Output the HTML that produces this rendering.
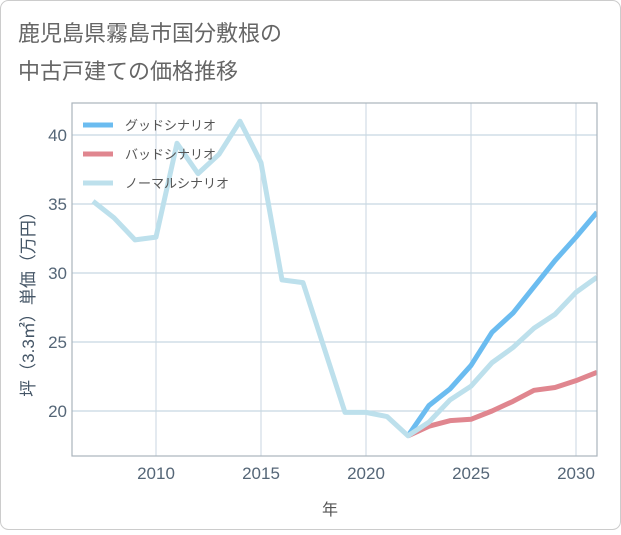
<!DOCTYPE html>
<html><head><meta charset="utf-8"><style>
body{margin:0;background:#fff;font-family:"Liberation Sans","Noto Sans CJK JP",sans-serif;}
#wrap{position:relative;width:621px;height:530px;}
</style></head><body>
<div id="wrap">
<svg id="chart" width="621" height="530" font-family="Liberation Sans, Noto Sans CJK JP, sans-serif">
<rect x="0.5" y="0.5" width="620" height="529" rx="8" fill="#fff" stroke="#ccc"/>
<text x="18" y="41" font-size="22" fill="#666">鹿児島県霧島市国分敷根の</text>
<text x="18" y="79" font-size="22" fill="#666">中古戸建ての価格推移</text>
<g id="grid"></g>
<g id="series"></g>
<g id="axes"></g>
<text x="330" y="515" font-size="16" fill="#555" text-anchor="middle">年</text>
<text transform="translate(34,300) rotate(-90)" font-size="17" fill="#456" text-anchor="middle">坪（3.3㎡）単価（万円）</text>
<g>
<line x1="83" y1="125" x2="113" y2="125" stroke="#6bbcf0" stroke-width="5"/>
<text x="125" y="130" font-size="13" fill="#555">グッドシナリオ</text>
<line x1="83" y1="154" x2="113" y2="154" stroke="#e0868f" stroke-width="5"/>
<text x="125" y="159" font-size="13" fill="#555">バッドシナリオ</text>
<line x1="83" y1="183" x2="113" y2="183" stroke="#bde0ec" stroke-width="5"/>
<text x="125" y="188" font-size="13" fill="#555">ノーマルシナリオ</text>
</g>
</svg>
</div>
<script>
const normalYears=[2007,2008,2009,2010,2011,2012,2013,2014,2015,2016,2017,2018,2019,2020,2021,2022,2023,2024,2025,2026,2027,2028,2029,2030,2031];
const normalValues=[35.2,34.0,32.4,32.6,39.4,37.2,38.6,41.0,38.0,29.5,29.3,24.6,19.9,19.9,19.6,18.2,19.2,20.8,21.8,23.5,24.6,26.0,27.0,28.6,29.7];
const scenarioYears=[2022,2023,2024,2025,2026,2027,2028,2029,2030,2031];
const goodValues=[18.2,20.4,21.6,23.3,25.7,27.1,29.0,30.9,32.6,34.4];
const badValues=[18.2,18.9,19.3,19.4,20.0,20.7,21.5,21.7,22.2,22.8];
const xTicks=[2010,2015,2020,2025,2030];
const yTicks=[20,25,30,35,40];
const L=72,R=597,T=103,B=456;
const x=v=>156+(v-2010)*21;
const y=v=>411-(v-20)*13.8;
const NS='http://www.w3.org/2000/svg';
const grid=document.getElementById('grid'),axes=document.getElementById('axes'),ser=document.getElementById('series');
function mk(tag,attrs,parent){const e=document.createElementNS(NS,tag);for(const k in attrs)e.setAttribute(k,attrs[k]);parent.appendChild(e);return e;}
xTicks.forEach(t=>{
const g=mk('line',{x1:x(t),x2:x(t),y1:T,y2:B,stroke:'#d3dde6','stroke-width':1.2},grid);


const tx=mk('text',{x:x(t),y:479,'font-size':17,fill:'#567','text-anchor':'middle'},axes);
tx.textContent=t;


});
yTicks.forEach(t=>{
const g=mk('line',{x1:L,x2:R,y1:y(t),y2:y(t),stroke:'#c8d8e2','stroke-width':1.2},grid);


const tx=mk('text',{x:67,y:y(t)+6,'font-size':17,fill:'#567','text-anchor':'end'},axes);
tx.textContent=t;


});
const fr=mk('rect',{x:L,y:T,width:R-L,height:B-T,fill:'none',stroke:'#aab4bc','stroke-width':1.2},axes);


function line(xs,vs,color,name){
const p=mk('polyline',{points:xs.map((t,i)=>x(t)+','+y(vs[i])).join(' '),fill:'none',stroke:color,'stroke-width':5,'stroke-linejoin':'round'},ser);


}
const cp=mk('clipPath',{id:'clip'},document.getElementById('chart'));
mk('rect',{x:L,y:T,width:R-L,height:B-T},cp);
ser.setAttribute('clip-path','url(#clip)');
line(scenarioYears,badValues,'#e0868f','bad-scenario-line');
line(scenarioYears,goodValues,'#6bbcf0','good-scenario-line');
line(normalYears,normalValues,'#bde0ec','normal-scenario-line');
</script>
</body></html>
